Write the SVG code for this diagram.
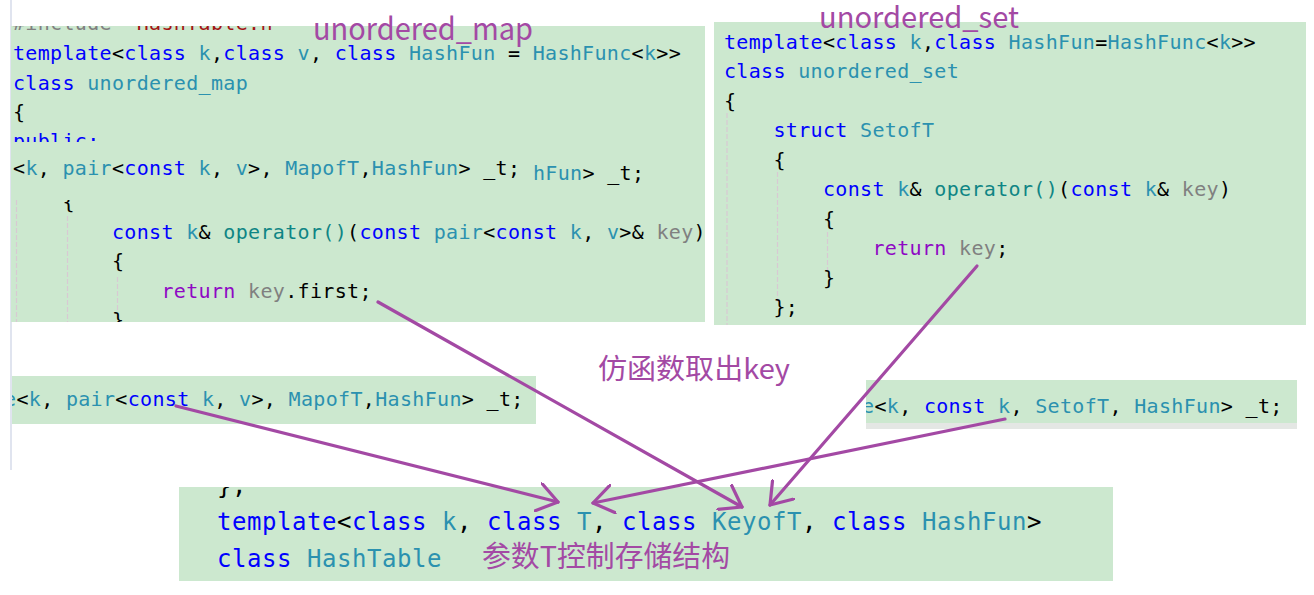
<svg xmlns="http://www.w3.org/2000/svg" width="1314" height="595" viewBox="0 0 1314 595">
<style>
text { white-space: pre; }
.bg { fill: #CCE8CF; }
.c { font-family: "DejaVu Sans Mono", monospace; font-size: 20px; letter-spacing: 0.33px; fill: #000000; }
.c2 { font-family: "DejaVu Sans Mono", monospace; font-size: 24px; letter-spacing: 0.55px; fill: #000000; }
.kw { fill: #0000FF; }
.ty { fill: #2B91AF; }
.fn { fill: #0F8585; }
.pa { fill: #808080; }
.ctl { fill: #8F08C4; }
.pp { fill: #808080; }
.str { fill: #A31515; }
.guide { stroke: #D8C9D3; stroke-width: 1.2; stroke-dasharray: 5 2; fill: none; }
.note { font-family: "Noto Sans CJK SC", "Noto Sans", sans-serif; fill: #A349A4; }
.arrow { stroke: #A349A4; stroke-width: 3.2; fill: none; stroke-linecap: round; marker-end: url(#head); }
</style>
<defs>
<marker id="head" viewBox="0 0 24 30" refX="21" refY="15" markerWidth="24" markerHeight="30" markerUnits="userSpaceOnUse" orient="auto">
<path d="M1,1 L21,15 L1,29" fill="none" stroke="#A349A4" stroke-width="3.2" stroke-linecap="round" stroke-linejoin="round"/>
</marker>
<clipPath id="clipA1"><rect x="11" y="26" width="694" height="116"/></clipPath>
<clipPath id="clipA3"><rect x="11" y="200" width="694" height="122"/></clipPath>
<clipPath id="clipC"><rect x="12" y="376" width="524" height="48"/></clipPath>
<clipPath id="clipD"><rect x="866" y="380" width="431" height="43"/></clipPath>
<clipPath id="clipE"><rect x="179" y="487" width="934" height="94"/></clipPath>
</defs>
<rect x="0" y="0" width="1314" height="595" fill="#FFFFFF"/>
<line x1="11" y1="0" x2="11" y2="470" stroke="#D6DBEA" stroke-width="1.5"/>

<g id="panel-unordered-map">
<rect class="bg" x="11" y="26" width="694" height="296"/>
<g clip-path="url(#clipA1)">
<text class="c" x="13" y="30"><tspan class="pp">#include </tspan><tspan class="str">"HashTable.h"</tspan></text>
<text class="c" x="13" y="60"><tspan class="kw">template</tspan>&lt;<tspan class="kw">class</tspan><tspan class="ty"> k</tspan>,<tspan class="kw">class</tspan><tspan class="ty"> v</tspan>, <tspan class="kw">class</tspan><tspan class="ty"> HashFun</tspan> = <tspan class="ty">HashFunc</tspan>&lt;<tspan class="ty">k</tspan>&gt;&gt;</text>
<text class="c" x="13" y="89.5"><tspan class="kw">class</tspan> <tspan class="ty">unordered_map</tspan></text>
<text class="c" x="13" y="118.5">{</text>
<text class="c" x="13" y="148"><tspan class="kw">public:</tspan></text>
</g>
<text class="c" x="13" y="175">&lt;<tspan class="ty">k</tspan>, <tspan class="ty">pair</tspan>&lt;<tspan class="kw">const</tspan> <tspan class="ty">k</tspan>, <tspan class="ty">v</tspan>&gt;, <tspan class="ty">MapofT</tspan>,<tspan class="ty">HashFun</tspan>&gt; _t;</text>
<text class="c" x="533" y="180"><tspan class="ty">hFun</tspan>&gt; _t;</text>
<g clip-path="url(#clipA3)">
<line class="guide" x1="16.5" y1="200" x2="16.5" y2="322"/>
<line class="guide" x1="67.5" y1="216" x2="67.5" y2="322"/>
<line class="guide" x1="117.5" y1="277" x2="117.5" y2="310"/>
<text class="c" x="62.5" y="209">{</text>
<text class="c" x="112" y="238.5"><tspan class="kw">const</tspan> <tspan class="ty">k</tspan>&amp; <tspan class="fn">operator()</tspan>(<tspan class="kw">const</tspan> <tspan class="ty">pair</tspan>&lt;<tspan class="kw">const</tspan> <tspan class="ty">k</tspan>, <tspan class="ty">v</tspan>&gt;&amp; <tspan class="pa">key</tspan>)</text>
<text class="c" x="112" y="268">{</text>
<text class="c" x="161.5" y="297.5"><tspan class="ctl">return</tspan> <tspan class="pa">key</tspan>.first;</text>
<text class="c" x="112" y="327">}</text>
</g>
</g>

<g id="panel-unordered-set">
<rect class="bg" x="714" y="22" width="592" height="303"/>
<line class="guide" x1="727" y1="113" x2="727" y2="325"/>
<line class="guide" x1="777.5" y1="172" x2="777.5" y2="302"/>
<line class="guide" x1="827.5" y1="232" x2="827.5" y2="272"/>
<text class="c" x="724" y="48.5"><tspan class="kw">template</tspan>&lt;<tspan class="kw">class</tspan><tspan class="ty"> k</tspan>,<tspan class="kw">class</tspan><tspan class="ty"> HashFun</tspan>=<tspan class="ty">HashFunc</tspan>&lt;<tspan class="ty">k</tspan>&gt;&gt;</text>
<text class="c" x="724" y="78"><tspan class="kw">class</tspan> <tspan class="ty">unordered_set</tspan></text>
<text class="c" x="724" y="107.5">{</text>
<text class="c" x="773.5" y="137"><tspan class="kw">struct</tspan> <tspan class="ty">SetofT</tspan></text>
<text class="c" x="773.5" y="166.5">{</text>
<text class="c" x="823" y="196"><tspan class="kw">const</tspan> <tspan class="ty">k</tspan>&amp; <tspan class="fn">operator()</tspan>(<tspan class="kw">const</tspan> <tspan class="ty">k</tspan>&amp; <tspan class="pa">key</tspan>)</text>
<text class="c" x="823" y="225.5">{</text>
<text class="c" x="872.5" y="255"><tspan class="ctl">return</tspan> <tspan class="pa">key</tspan>;</text>
<text class="c" x="823" y="284.5">}</text>
<text class="c" x="773.5" y="314">};</text>
</g>

<g id="member-map">
<rect class="bg" x="12" y="376" width="524" height="48"/>
<text class="c" x="4" y="406" clip-path="url(#clipC)"><tspan class="ty">e</tspan>&lt;<tspan class="ty">k</tspan>, <tspan class="ty">pair</tspan>&lt;<tspan class="kw">const</tspan> <tspan class="ty">k</tspan>, <tspan class="ty">v</tspan>&gt;, <tspan class="ty">MapofT</tspan>,<tspan class="ty">HashFun</tspan>&gt; _t;</text>
</g>

<g id="member-set">
<rect class="bg" x="866" y="380" width="431" height="43"/>
<rect x="866" y="423" width="431" height="6" fill="#E4E7E4"/>
<text class="c" x="862" y="413" clip-path="url(#clipD)"><tspan class="ty">e</tspan>&lt;<tspan class="ty">k</tspan>, <tspan class="kw">const</tspan> <tspan class="ty">k</tspan>, <tspan class="ty">SetofT</tspan>, <tspan class="ty">HashFun</tspan>&gt; _t;</text>
</g>

<g id="panel-hashtable">
<rect class="bg" x="179" y="487" width="934" height="94"/>
<g clip-path="url(#clipE)">
<text class="c2" x="217" y="493.5">};</text>
<text class="c2" x="217" y="530"><tspan class="kw">template</tspan>&lt;<tspan class="kw">class</tspan> <tspan class="ty">k</tspan>, <tspan class="kw">class</tspan> <tspan class="ty">T</tspan>, <tspan class="kw">class</tspan> <tspan class="ty">KeyofT</tspan>, <tspan class="kw">class</tspan> <tspan class="ty">HashFun</tspan>&gt;</text>
<text class="c2" x="217" y="566.5"><tspan class="kw">class</tspan> <tspan class="ty">HashTable</tspan></text>
</g>
</g>

<g id="connectors">
<path class="arrow" d="M378,302 L742,507"/>
<path class="arrow" d="M977,266 L770,505"/>
<path class="arrow" d="M176,406 L558,502"/>
<path class="arrow" d="M1005,419 L593,503"/>
</g>

<g id="label-map"><text class="note" x="313" y="40" font-size="31" textLength="220" lengthAdjust="spacingAndGlyphs">unordered_map</text></g>
<g id="label-set"><text class="note" x="819" y="28" font-size="29" textLength="200" lengthAdjust="spacingAndGlyphs">unordered_set</text></g>
<g id="label-functor"><text class="note" x="598" y="379" font-size="28" textLength="192" lengthAdjust="spacingAndGlyphs">仿函数取出key</text></g>
<g id="label-T"><text class="note" x="482" y="567" font-size="29" textLength="248" lengthAdjust="spacingAndGlyphs">参数T控制存储结构</text></g>
</svg>
